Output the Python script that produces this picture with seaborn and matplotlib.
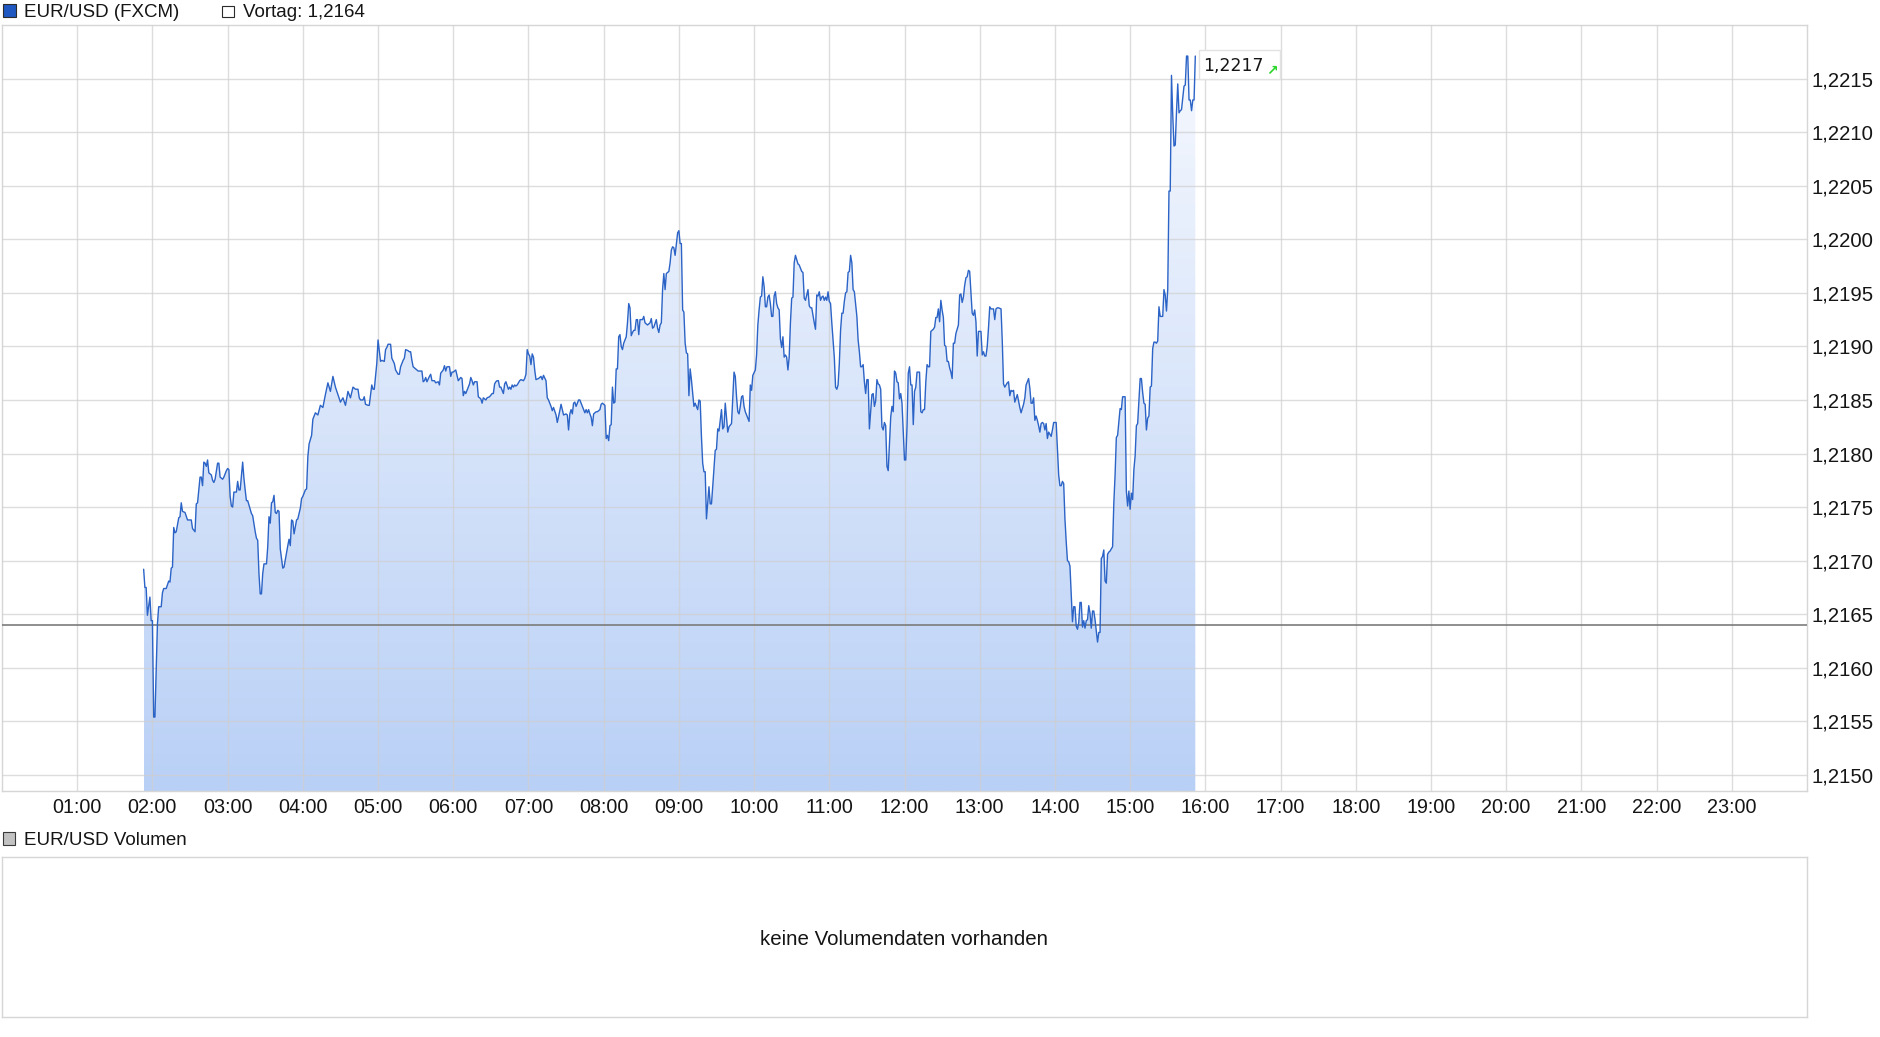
import numpy as np
import pandas as pd
import matplotlib
matplotlib.use("Agg")
import matplotlib.pyplot as plt
from matplotlib.colors import LinearSegmentedColormap
from matplotlib.patches import Rectangle
from matplotlib.transforms import IdentityTransform
import seaborn as sns

# EUR/USD intraday quotes (FXCM)
t_night = [
    "01:53", "01:54", "01:55", "01:56", "01:58", "01:59", "02:00", "02:01", "02:02", "02:04",
    "02:05", "02:07", "02:08", "02:09", "02:11", "02:13", "02:14", "02:15", "02:16", "02:17",
    "02:18", "02:19", "02:21", "02:22", "02:23", "02:24", "02:26", "02:28", "02:31", "02:32",
    "02:34", "02:35", "02:36", "02:38", "02:39", "02:40", "02:41", "02:42", "02:43", "02:44",
    "02:45", "02:47", "02:48", "02:49", "02:50", "02:52", "02:53", "02:54", "02:56", "02:57",
    "02:59", "03:00", "03:01", "03:02", "03:03", "03:04", "03:05", "03:07", "03:08", "03:09",
    "03:10", "03:12", "03:13", "03:14", "03:15", "03:16", "03:17", "03:19", "03:20", "03:22",
    "03:23", "03:24", "03:25", "03:26", "03:27", "03:28", "03:29", "03:31", "03:32", "03:33",
    "03:34", "03:35", "03:36", "03:37", "03:38", "03:39", "03:40", "03:41", "03:42", "03:43",
    "03:44", "03:45", "03:48", "03:49", "03:50", "03:51", "03:52", "03:53", "03:55", "03:56",
    "03:58", "03:59", "04:00", "04:02", "04:03", "04:04", "04:05", "04:06", "04:07",
]
p_night = [
    1.21692, 1.21675, 1.21675, 1.21649, 1.21666, 1.21644, 1.21644, 1.21554, 1.21554, 1.21641,
    1.21657, 1.21657, 1.21670, 1.21674, 1.21674, 1.21681, 1.21680, 1.21693, 1.21694, 1.21731,
    1.21726, 1.21727, 1.21740, 1.21741, 1.21754, 1.21746, 1.21745, 1.21738, 1.21738, 1.21730,
    1.21727, 1.21753, 1.21754, 1.21778, 1.21778, 1.21770, 1.21792, 1.21791, 1.21788, 1.21794,
    1.21782, 1.21780, 1.21775, 1.21773, 1.21776, 1.21791, 1.21791, 1.21778, 1.21776, 1.21778,
    1.21784, 1.21786, 1.21785, 1.21760, 1.21751, 1.21750, 1.21764, 1.21764, 1.21774, 1.21766,
    1.21766, 1.21792, 1.21777, 1.21766, 1.21756, 1.21756, 1.21752, 1.21744, 1.21742, 1.21727,
    1.21721, 1.21719, 1.21688, 1.21669, 1.21669, 1.21688, 1.21697, 1.21697, 1.21713, 1.21741,
    1.21735, 1.21754, 1.21755, 1.21761, 1.21745, 1.21744, 1.21747, 1.21746, 1.21711, 1.21702,
    1.21693, 1.21694, 1.21714, 1.21720, 1.21714, 1.21738, 1.21737, 1.21725, 1.21738, 1.21739,
    1.21749, 1.21758, 1.21760, 1.21766, 1.21767, 1.21797, 1.21809, 1.21813, 1.21817,
]

t_asia = [
    "04:08", "04:10", "04:12", "04:14", "04:16", "04:18", "04:20", "04:22", "04:24", "04:26",
    "04:28", "04:30", "04:32", "04:34", "04:36", "04:38", "04:40", "04:42", "04:44", "04:45",
    "04:46", "04:48", "04:49", "04:50", "04:52", "04:53", "04:55", "04:56", "04:57", "04:59",
    "05:00", "05:01", "05:02", "05:03", "05:05", "05:06", "05:07", "05:08", "05:10", "05:11",
    "05:13", "05:14", "05:16", "05:17", "05:18", "05:20", "05:21", "05:22", "05:24", "05:25",
    "05:26", "05:27", "05:28", "05:30", "05:32", "05:33", "05:35", "05:36", "05:37", "05:38",
    "05:39", "05:41", "05:42", "05:43", "05:45", "05:46", "05:48", "05:49", "05:50", "05:52",
    "05:53", "05:54", "05:55", "05:57", "05:58", "05:59", "06:00", "06:02", "06:03", "06:04",
    "06:06", "06:07", "06:08", "06:09", "06:10", "06:12", "06:13", "06:14", "06:15", "06:16",
    "06:17", "06:19", "06:20", "06:22", "06:23", "06:24", "06:26", "06:27", "06:29", "06:31",
    "06:32", "06:33", "06:34", "06:35", "06:36", "06:37", "06:38", "06:40", "06:41", "06:42",
    "06:44", "06:45", "06:46", "06:47", "06:48", "06:49", "06:50", "06:51", "06:53", "06:54",
    "06:56", "06:57", "06:58", "06:59", "07:00", "07:01", "07:02", "07:03", "07:04", "07:05",
    "07:06", "07:08", "07:10", "07:11", "07:12", "07:14", "07:15", "07:16", "07:18", "07:19",
    "07:20", "07:22", "07:23", "07:25", "07:26", "07:27", "07:28", "07:30", "07:31", "07:32",
]
p_asia = [
    1.21832, 1.21838, 1.21836, 1.21845, 1.21843, 1.21855, 1.21866, 1.21858, 1.21872, 1.21862,
    1.21855, 1.21848, 1.21852, 1.21845, 1.21858, 1.21852, 1.21862, 1.21860, 1.21860, 1.21852,
    1.21850, 1.21850, 1.21853, 1.21846, 1.21845, 1.21845, 1.21864, 1.21860, 1.21860, 1.21884,
    1.21906, 1.21896, 1.21886, 1.21887, 1.21886, 1.21897, 1.21899, 1.21902, 1.21902, 1.21889,
    1.21884, 1.21878, 1.21874, 1.21874, 1.21881, 1.21887, 1.21889, 1.21897, 1.21896, 1.21895,
    1.21895, 1.21887, 1.21881, 1.21879, 1.21877, 1.21877, 1.21877, 1.21867, 1.21868, 1.21871,
    1.21867, 1.21872, 1.21874, 1.21868, 1.21868, 1.21866, 1.21867, 1.21864, 1.21875, 1.21878,
    1.21882, 1.21877, 1.21881, 1.21881, 1.21872, 1.21876, 1.21876, 1.21878, 1.21873, 1.21868,
    1.21871, 1.21870, 1.21854, 1.21858, 1.21856, 1.21862, 1.21865, 1.21871, 1.21868, 1.21864,
    1.21867, 1.21867, 1.21853, 1.21851, 1.21847, 1.21852, 1.21850, 1.21852, 1.21853, 1.21856,
    1.21856, 1.21865, 1.21867, 1.21868, 1.21868, 1.21862, 1.21862, 1.21856, 1.21865, 1.21867,
    1.21860, 1.21862, 1.21860, 1.21864, 1.21862, 1.21864, 1.21863, 1.21864, 1.21868, 1.21869,
    1.21868, 1.21870, 1.21874, 1.21897, 1.21893, 1.21891, 1.21883, 1.21893, 1.21890, 1.21878,
    1.21869, 1.21870, 1.21872, 1.21869, 1.21873, 1.21868, 1.21852, 1.21850, 1.21844, 1.21840,
    1.21843, 1.21836, 1.21829, 1.21840, 1.21846, 1.21841, 1.21836, 1.21837, 1.21836, 1.21822,
]

t_morning = [
    "07:33", "07:34", "07:35", "07:36", "07:37", "07:38", "07:39", "07:40", "07:41", "07:43",
    "07:45", "07:46", "07:47", "07:48", "07:49", "07:50", "07:51", "07:52", "07:54", "07:55",
    "07:57", "07:58", "07:59", "08:01", "08:02", "08:03", "08:04", "08:05", "08:06", "08:07",
    "08:08", "08:09", "08:10", "08:11", "08:12", "08:13", "08:14", "08:15", "08:16", "08:18",
    "08:19", "08:20", "08:21", "08:22", "08:23", "08:24", "08:25", "08:26", "08:27", "08:28",
    "08:29", "08:31", "08:32", "08:33", "08:35", "08:37", "08:38", "08:39", "08:40", "08:42",
    "08:43", "08:44", "08:45", "08:46", "08:47", "08:48", "08:49", "08:50", "08:52", "08:53",
    "08:54", "08:55", "08:56", "08:57", "08:59", "09:00", "09:01", "09:02", "09:03", "09:04",
    "09:05", "09:06", "09:07", "09:08", "09:09", "09:10", "09:12", "09:13", "09:14", "09:15",
    "09:16", "09:17", "09:18", "09:19", "09:20", "09:21", "09:22", "09:24", "09:25", "09:26",
    "09:27", "09:29", "09:30", "09:31", "09:32", "09:34", "09:35", "09:36", "09:37", "09:38",
    "09:39", "09:40", "09:42", "09:43", "09:44", "09:45", "09:46", "09:47", "09:48", "09:49",
    "09:50", "09:51", "09:52", "09:53", "09:55", "09:56", "09:57", "09:58", "09:59", "10:01",
    "10:02", "10:03", "10:04", "10:05", "10:06", "10:07", "10:08", "10:09", "10:10", "10:11",
    "10:12", "10:13", "10:14", "10:15", "10:16", "10:17", "10:18", "10:19", "10:20", "10:21",
    "10:22", "10:23", "10:24",
]
p_morning = [
    1.21837, 1.21841, 1.21837, 1.21847, 1.21848, 1.21844, 1.21847, 1.21850, 1.21850, 1.21844,
    1.21838, 1.21841, 1.21838, 1.21841, 1.21837, 1.21834, 1.21826, 1.21837, 1.21839, 1.21839,
    1.21841, 1.21846, 1.21847, 1.21845, 1.21814, 1.21817, 1.21812, 1.21826, 1.21827, 1.21862,
    1.21847, 1.21848, 1.21879, 1.21879, 1.21909, 1.21911, 1.21900, 1.21897, 1.21903, 1.21909,
    1.21922, 1.21940, 1.21936, 1.21910, 1.21913, 1.21915, 1.21915, 1.21925, 1.21925, 1.21911,
    1.21925, 1.21925, 1.21928, 1.21922, 1.21920, 1.21922, 1.21926, 1.21917, 1.21918, 1.21925,
    1.21917, 1.21913, 1.21920, 1.21922, 1.21953, 1.21968, 1.21953, 1.21968, 1.21970, 1.21978,
    1.21990, 1.21993, 1.21992, 1.21985, 1.22006, 1.22008, 1.21996, 1.21996, 1.21934, 1.21932,
    1.21903, 1.21894, 1.21893, 1.21854, 1.21879, 1.21869, 1.21844, 1.21847, 1.21844, 1.21841,
    1.21850, 1.21849, 1.21816, 1.21791, 1.21783, 1.21783, 1.21739, 1.21769, 1.21753, 1.21753,
    1.21769, 1.21803, 1.21804, 1.21823, 1.21821, 1.21841, 1.21823, 1.21825, 1.21847, 1.21834,
    1.21820, 1.21825, 1.21828, 1.21853, 1.21876, 1.21872, 1.21853, 1.21839, 1.21837, 1.21844,
    1.21853, 1.21854, 1.21844, 1.21839, 1.21833, 1.21830, 1.21864, 1.21859, 1.21873, 1.21878,
    1.21892, 1.21920, 1.21934, 1.21946, 1.21947, 1.21965, 1.21956, 1.21937, 1.21937, 1.21946,
    1.21948, 1.21940, 1.21928, 1.21928, 1.21947, 1.21951, 1.21940, 1.21936, 1.21934, 1.21907,
    1.21899, 1.21909, 1.21890,
]

t_midday = [
    "10:25", "10:26", "10:27", "10:28", "10:29", "10:30", "10:31", "10:32", "10:33", "10:34",
    "10:35", "10:36", "10:38", "10:39", "10:40", "10:41", "10:42", "10:43", "10:44", "10:45",
    "10:46", "10:48", "10:49", "10:50", "10:51", "10:52", "10:53", "10:54", "10:55", "10:56",
    "10:57", "10:58", "10:59", "11:00", "11:01", "11:02", "11:04", "11:05", "11:06", "11:07",
    "11:08", "11:09", "11:10", "11:11", "11:12", "11:13", "11:14", "11:15", "11:16", "11:17",
    "11:18", "11:19", "11:20", "11:22", "11:23", "11:24", "11:25", "11:26", "11:27", "11:28",
    "11:29", "11:30", "11:31", "11:32", "11:33", "11:34", "11:35", "11:36", "11:37", "11:38",
    "11:39", "11:40", "11:41", "11:42", "11:43", "11:44", "11:45", "11:46", "11:47", "11:49",
    "11:50", "11:51", "11:52", "11:53", "11:54", "11:55", "11:56", "11:57", "11:58", "12:00",
    "12:01", "12:02", "12:03", "12:04", "12:05", "12:06", "12:07", "12:08", "12:09", "12:10",
    "12:12", "12:13", "12:14", "12:15", "12:16", "12:17", "12:18", "12:19", "12:20", "12:21",
    "12:22", "12:23", "12:24", "12:25", "12:26", "12:27", "12:28", "12:29", "12:30", "12:31",
    "12:32", "12:33", "12:34", "12:35", "12:36", "12:37", "12:38", "12:39", "12:40", "12:41",
    "12:43", "12:44", "12:45", "12:46", "12:47", "12:48", "12:49", "12:50", "12:51", "12:52",
    "12:53", "12:54", "12:55", "12:56", "12:57", "12:58", "12:59", "13:01", "13:02", "13:03",
    "13:04", "13:05", "13:06", "13:07", "13:08", "13:09", "13:11", "13:12", "13:13", "13:14",
    "13:15",
]
p_midday = [
    1.21892, 1.21890, 1.21878, 1.21890, 1.21922, 1.21945, 1.21946, 1.21978, 1.21985, 1.21981,
    1.21977, 1.21976, 1.21970, 1.21969, 1.21945, 1.21943, 1.21948, 1.21953, 1.21938, 1.21936,
    1.21936, 1.21922, 1.21916, 1.21948, 1.21947, 1.21951, 1.21943, 1.21946, 1.21947, 1.21943,
    1.21946, 1.21943, 1.21951, 1.21942, 1.21940, 1.21922, 1.21890, 1.21862, 1.21860, 1.21864,
    1.21884, 1.21915, 1.21931, 1.21931, 1.21942, 1.21950, 1.21951, 1.21969, 1.21970, 1.21985,
    1.21978, 1.21953, 1.21951, 1.21928, 1.21906, 1.21895, 1.21881, 1.21881, 1.21883, 1.21867,
    1.21856, 1.21869, 1.21869, 1.21823, 1.21839, 1.21855, 1.21856, 1.21844, 1.21849, 1.21869,
    1.21865, 1.21864, 1.21860, 1.21825, 1.21822, 1.21829, 1.21826, 1.21788, 1.21784, 1.21834,
    1.21844, 1.21839, 1.21877, 1.21875, 1.21867, 1.21866, 1.21851, 1.21856, 1.21847, 1.21794,
    1.21794, 1.21825, 1.21875, 1.21881, 1.21864, 1.21864, 1.21827, 1.21858, 1.21862, 1.21876,
    1.21876, 1.21839, 1.21838, 1.21841, 1.21841, 1.21867, 1.21883, 1.21881, 1.21881, 1.21914,
    1.21915, 1.21916, 1.21918, 1.21927, 1.21927, 1.21935, 1.21923, 1.21943, 1.21934, 1.21927,
    1.21901, 1.21900, 1.21886, 1.21886, 1.21880, 1.21876, 1.21870, 1.21903, 1.21903, 1.21912,
    1.21920, 1.21948, 1.21949, 1.21941, 1.21946, 1.21957, 1.21964, 1.21965, 1.21971, 1.21970,
    1.21950, 1.21931, 1.21929, 1.21934, 1.21923, 1.21891, 1.21914, 1.21914, 1.21892, 1.21895,
    1.21891, 1.21891, 1.21900, 1.21917, 1.21937, 1.21935, 1.21935, 1.21925, 1.21935, 1.21936,
    1.21936,
]

t_afternoon = [
    "13:17", "13:18", "13:19", "13:20", "13:22", "13:23", "13:24", "13:25", "13:26", "13:27",
    "13:28", "13:30", "13:31", "13:32", "13:33", "13:34", "13:35", "13:36", "13:37", "13:39",
    "13:40", "13:41", "13:42", "13:43", "13:44", "13:45", "13:46", "13:47", "13:48", "13:49",
    "13:50", "13:51", "13:52", "13:53", "13:54", "13:55", "13:57", "13:58", "13:59", "14:01",
    "14:02", "14:03", "14:04", "14:05", "14:06", "14:07", "14:08", "14:09", "14:10", "14:11",
    "14:12", "14:13", "14:14", "14:15", "14:16", "14:17", "14:18", "14:19", "14:20", "14:21",
    "14:22", "14:23", "14:24", "14:25", "14:26", "14:27", "14:28", "14:29", "14:30", "14:31",
    "14:32", "14:34", "14:35", "14:36", "14:37", "14:38", "14:39", "14:40", "14:41", "14:42",
    "14:43", "14:44", "14:45", "14:46", "14:47", "14:48", "14:49", "14:50", "14:52", "14:53",
    "14:54", "14:55", "14:56", "14:57", "14:58", "14:59", "15:00", "15:01", "15:02", "15:03",
    "15:04", "15:05", "15:06", "15:08", "15:09", "15:10", "15:11", "15:12", "15:13", "15:14",
    "15:15", "15:16", "15:17", "15:18", "15:19", "15:20", "15:21", "15:22", "15:23", "15:24",
    "15:26", "15:27", "15:28", "15:29", "15:30", "15:31", "15:32", "15:33", "15:34", "15:35",
    "15:36", "15:37", "15:38", "15:39", "15:40", "15:41", "15:43", "15:44", "15:45", "15:46",
    "15:47", "15:48", "15:49", "15:50", "15:51", "15:52",
]
p_afternoon = [
    1.21935, 1.21905, 1.21865, 1.21862, 1.21866, 1.21867, 1.21854, 1.21859, 1.21858, 1.21859,
    1.21848, 1.21855, 1.21849, 1.21843, 1.21838, 1.21842, 1.21846, 1.21852, 1.21864, 1.21870,
    1.21861, 1.21847, 1.21847, 1.21852, 1.21831, 1.21835, 1.21831, 1.21826, 1.21820, 1.21828,
    1.21829, 1.21828, 1.21822, 1.21828, 1.21814, 1.21820, 1.21816, 1.21822, 1.21829, 1.21829,
    1.21805, 1.21780, 1.21770, 1.21770, 1.21774, 1.21772, 1.21739, 1.21718, 1.21700, 1.21699,
    1.21695, 1.21669, 1.21643, 1.21657, 1.21657, 1.21639, 1.21636, 1.21642, 1.21661, 1.21661,
    1.21638, 1.21644, 1.21637, 1.21644, 1.21645, 1.21658, 1.21651, 1.21637, 1.21653, 1.21653,
    1.21645, 1.21624, 1.21633, 1.21633, 1.21702, 1.21704, 1.21710, 1.21681, 1.21679, 1.21706,
    1.21708, 1.21709, 1.21711, 1.21713, 1.21754, 1.21780, 1.21815, 1.21817, 1.21842, 1.21841,
    1.21853, 1.21853, 1.21853, 1.21765, 1.21751, 1.21765, 1.21748, 1.21763, 1.21757, 1.21785,
    1.21798, 1.21826, 1.21828, 1.21870, 1.21870, 1.21857, 1.21847, 1.21846, 1.21822, 1.21833,
    1.21835, 1.21862, 1.21863, 1.21898, 1.21904, 1.21904, 1.21903, 1.21905, 1.21937, 1.21928,
    1.21928, 1.21953, 1.21948, 1.21933, 1.21953, 1.22045, 1.22045, 1.22153, 1.22116, 1.22087,
    1.22088, 1.22119, 1.22145, 1.22118, 1.22120, 1.22121, 1.22143, 1.22144, 1.22171, 1.22171,
    1.22130, 1.22130, 1.22120, 1.22130, 1.22130, 1.22171,
]

prev_close = 1.2164
hour_ticks = list(range(1, 24))
hour_labels = ["01:00", "02:00", "03:00", "04:00", "05:00", "06:00", "07:00", "08:00",
               "09:00", "10:00", "11:00", "12:00", "13:00", "14:00", "15:00", "16:00",
               "17:00", "18:00", "19:00", "20:00", "21:00", "22:00", "23:00"]
price_ticks = [1.2150, 1.2155, 1.2160, 1.2165, 1.2170, 1.2175, 1.2180,
               1.2185, 1.2190, 1.2195, 1.2200, 1.2205, 1.2210, 1.2215]
price_labels = ["1,2150", "1,2155", "1,2160", "1,2165", "1,2170", "1,2175", "1,2180",
                "1,2185", "1,2190", "1,2195", "1,2200", "1,2205", "1,2210", "1,2215"]

segments = [(t_night, p_night), (t_asia, p_asia), (t_morning, p_morning),
            (t_midday, p_midday), (t_afternoon, p_afternoon)]
for t, p in segments:
    assert len(t) == len(p)

df = pd.DataFrame({
    "time": [x for t, _ in segments for x in t],
    "price": [x for _, p in segments for x in p],
})
stamp = pd.to_datetime(df["time"], format="%H:%M")
df["hour"] = stamp.dt.hour + stamp.dt.minute / 60

W, H = 1880, 1037
sns.set_theme(style="white")
plt.rcParams["font.family"] = ["Liberation Sans", "DejaVu Sans"]

text_c = "#151515"
grid_c = "#cfcfcf"
frame_c = "#d6d6d6"
line_c = "#2b63c6"
y_lo, y_hi = 1.21485, 1.22200

fig = plt.figure(figsize=(W / 100, H / 100), dpi=100)
ax = fig.add_axes([2 / W, (H - 791) / H, 1805 / W, 766 / H])
vax = fig.add_axes([2 / W, (H - 1017) / H, 1805 / W, 160 / H])

# gradient area under the price line
area = ax.fill_between(df["hour"], df["price"], y_lo, facecolor="none", lw=0)
cmap = LinearSegmentedColormap.from_list("area", ["#b9d0f6", "#f5f8fe"])
img = ax.imshow(np.linspace(0, 1, 256).reshape(-1, 1), cmap=cmap, aspect="auto",
                origin="lower", zorder=1,
                extent=[df["hour"].min(), df["hour"].max(), y_lo, df["price"].max()])
img.set_clip_path(area.get_paths()[0], transform=ax.transData)

sns.lineplot(x=df["hour"], y=df["price"], ax=ax, color=line_c, lw=1.0,
             estimator=None, sort=False, zorder=4)
ax.axhline(prev_close, color="#7b7b7b", lw=1.2, zorder=3)

ax.set_xlim(0, 24)
ax.set_ylim(y_lo, y_hi)
ax.set_xlabel("")
ax.set_ylabel("")
ax.set_xticks(hour_ticks)
ax.set_xticklabels(hour_labels)
ax.set_yticks(price_ticks)
ax.set_yticklabels(price_labels)
ax.yaxis.tick_right()
ax.set_axisbelow(False)
ax.grid(True, color=grid_c, lw=1, alpha=0.7)
ax.tick_params(axis="x", length=4, width=1, color=frame_c, pad=1,
               labelsize=14.2, labelcolor=text_c)
ax.tick_params(axis="y", length=0, pad=3.5, labelsize=14.6, labelcolor=text_c,
               right=True, labelright=True, left=False, labelleft=False)
for sp in ax.spines.values():
    sp.set_color(frame_c)
    sp.set_linewidth(1)
    sp.set_visible(True)

# last price box (drawn in pixels next to the last quote)
last_h, last_p = df["hour"].iloc[-1], df["price"].iloc[-1]
px, py = ax.transData.transform((last_h, last_p))
ax.add_patch(Rectangle((px + 4, py - 22.5), 81, 28.5, transform=IdentityTransform(),
                       fc="white", ec="#e2e2e2", lw=1, zorder=5, clip_on=False))
ax.annotate(f"{last_p:.4f}".replace(".", ","), xy=(last_h, last_p),
            xytext=(8, -10), textcoords="offset pixels", ha="left", va="center",
            fontsize=12.5, family="DejaVu Sans", color=text_c, zorder=6)
ax.annotate("\u2197", xy=(last_h, last_p), xytext=(77, -15), textcoords="offset pixels",
            ha="center", va="center", fontsize=10, fontweight="bold",
            family="DejaVu Sans", color="#2bd62b", zorder=7)

# volume panel
vax.set_xticks([])
vax.set_yticks([])
for sp in vax.spines.values():
    sp.set_color(frame_c)
    sp.set_linewidth(1)
    sp.set_visible(True)
vax.text(0.5, 0.485, "keine Volumendaten vorhanden", transform=vax.transAxes,
         ha="center", va="center", fontsize=14.8, color=text_c)

# header legends
fig.add_artist(Rectangle((3 / W, 1 - 17 / H), 13 / W, 13 / H, transform=fig.transFigure,
                         fc="#1f58c0", ec="#2b2b2b", lw=0.8))
fig.text(24 / W, 1 - 17.3 / H, "EUR/USD (FXCM)", ha="left", va="baseline",
         fontsize=13.5, color=text_c)
fig.add_artist(Rectangle((222 / W, 1 - 17.3 / H), 11.5 / W, 11.5 / H,
                         transform=fig.transFigure, fc="white", ec="#2b2b2b", lw=0.8))
fig.text(243 / W, 1 - 17.3 / H, "Vortag: 1,2164", ha="left", va="baseline",
         fontsize=13.5, color=text_c)
fig.add_artist(Rectangle((3 / W, 1 - 845 / H), 12 / W, 13 / H, transform=fig.transFigure,
                         fc="#c2c2c2", ec="#3a3a3a", lw=0.8))
fig.text(24 / W, 1 - 845 / H, "EUR/USD Volumen", ha="left", va="baseline",
         fontsize=13.5, color=text_c)

fig.savefig("out.png", dpi=100)
